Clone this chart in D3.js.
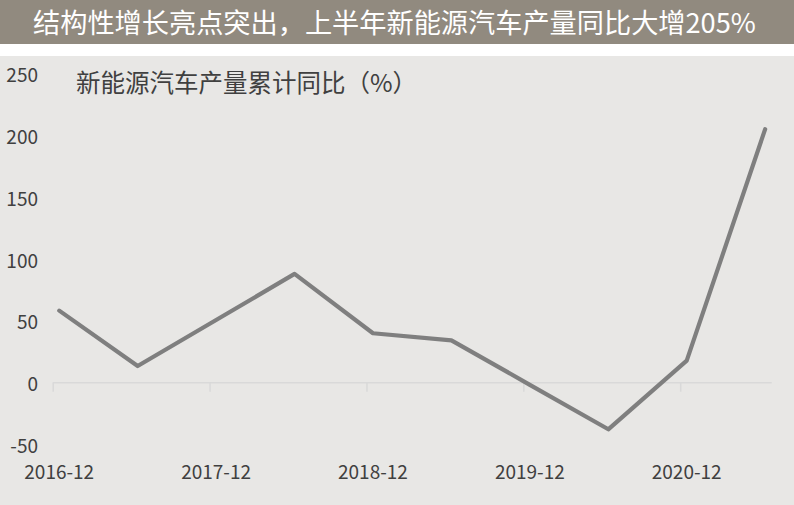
<!DOCTYPE html>
<html><head><meta charset="utf-8">
<script src="https://cdn.jsdelivr.net/npm/d3@7"></script>
<style>
html,body{margin:0;padding:0;background:#fff;}
svg{display:block;font-family:"Noto Sans CJK SC","Noto Sans",sans-serif;}
</style></head>
<body>
<svg id="c" width="794" height="505"></svg>
<script>
const title = "结构性增长亮点突出，上半年新能源汽车产量同比大增205%";
const subtitle = "新能源汽车产量累计同比（%）";
const periods = ["2016-12","2017-06","2017-12","2018-06","2018-12","2019-06","2019-12","2020-06","2020-12","2021-06"];
const values = [58.3, 13.5, 50.7, 88.0, 40.0, 34.3, -1.7, -37.7, 17.8, 205.1];
const xTickLabels = ["2016-12","2017-12","2018-12","2019-12","2020-12"];
const yTicks = [-50, 0, 50, 100, 150, 200, 250];

const start = {y:2016, m:12};
const monthIndex = s => { const [y,m] = s.split("-").map(Number); return (y-start.y)*12 + (m-start.m); };

const svg = d3.select("#c");
svg.append("rect").attr("x",0).attr("y",0).attr("width",794).attr("height",44).attr("fill","#918a7f");
svg.append("rect").attr("x",0).attr("y",56).attr("width",794).attr("height",449).attr("fill","#e8e7e5");
svg.append("text").attr("x",33).attr("y",21).attr("dominant-baseline","central")
  .attr("fill","#ffffff").attr("font-size",27.2).text(title);

const x = d3.scaleLinear().domain([0,55]).range([52.7,771.7]);
const y = d3.scaleLinear().domain([-50,250]).range([444.5,73.7]);

svg.append("text").attr("x",76).attr("y",81).attr("dominant-baseline","central")
  .attr("fill","#404040").attr("font-size",24.5).text(subtitle);

// y labels
svg.append("g").selectAll("text").data(yTicks).join("text")
  .attr("x",38).attr("y",d=>y(d)).attr("text-anchor","end").attr("dominant-baseline","central")
  .attr("fill","#404040").attr("font-size",19).text(d=>d);

// x axis at zero
const xAxis = d3.axisBottom(x).tickValues(xTickLabels.map(monthIndex)).tickSize(9).tickFormat("");
const gx = svg.append("g").attr("transform",`translate(0,${y(0)})`).call(xAxis);
gx.select(".domain").attr("stroke","#d9d9d9").attr("stroke-width",1.5).attr("d",`M${x(0)},0H${x(55)}`);
gx.selectAll(".tick line").attr("stroke","#d9d9d9").attr("stroke-width",1.5);

svg.append("g").selectAll("text").data(xTickLabels).join("text")
  .attr("x",d=>x(monthIndex(d)+0.5)).attr("y",470).attr("text-anchor","middle").attr("dominant-baseline","central")
  .attr("fill","#404040").attr("font-size",19).text(d=>d);

const line = d3.line().x((d,i)=>x(monthIndex(periods[i])+0.5)).y(d=>y(d));
svg.append("path").datum(values).attr("d",line).attr("fill","none")
  .attr("stroke","#7f7f7f").attr("stroke-width",4.2).attr("stroke-linejoin","round").attr("stroke-linecap","round");
</script>
</body></html>
